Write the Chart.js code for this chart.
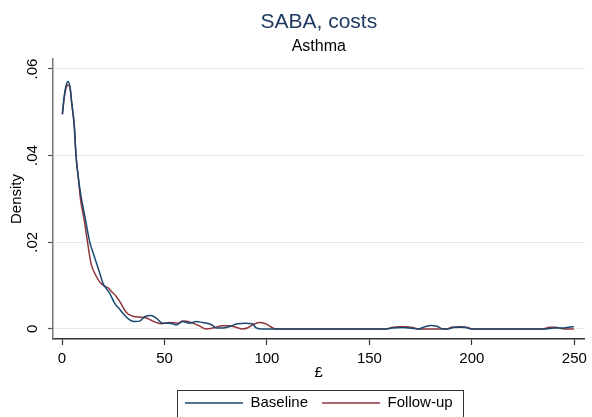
<!DOCTYPE html>
<html>
<head>
<meta charset="utf-8">
<title>SABA, costs</title>
<script src="https://cdn.jsdelivr.net/npm/chart.js@4"></script>
<style>
  html, body { margin: 0; padding: 0; background: #fff; }
  #wrap { width: 592px; height: 417px; }
</style>
</head>
<body>
<div id="wrap"><canvas id="c" width="592" height="417"></canvas></div>
<script>
const xTicks = [0, 50, 100, 150, 200, 250];
const yTicks = [0, 0.02, 0.04, 0.06];

// kernel density, baseline year
const baselineX = [0.2, 1, 2, 3, 4, 4.7, 6, 6.8, 7.9, 9.2, 11.2, 13.6, 15.2, 18.4, 20, 21.5, 23.3, 25.7, 28.2, 30.5,
  33, 35.5, 37.9, 40.3, 43.5, 46, 49.2, 52, 54, 55.7, 58.9, 62.1, 65.4, 68.5, 71.8, 73.5, 75.1, 78.3, 81.6, 85.6,
  89.7, 92.9, 94.5, 97, 100, 120, 140, 158, 161, 166, 172, 174, 177, 180, 183, 186, 188, 191, 194, 197,
  200, 220, 236, 240, 243, 245, 247.4, 249.8];
const baselineY = [0.0495, 0.0535, 0.0562, 0.0571, 0.0555, 0.0525, 0.0468, 0.0402, 0.0352, 0.0308, 0.0259, 0.0199, 0.0175, 0.0129, 0.0105, 0.0094, 0.0082, 0.0059, 0.0045, 0.0032,
  0.0021, 0.0017, 0.0018, 0.0028, 0.0031, 0.0025, 0.0013, 0.0013, 0.0012, 0.0009, 0.0017, 0.0013, 0.0017, 0.0015, 0.0012, 0.0008, 0.0002, 0.0002, 0.0005, 0.0012,
  0.0013, 0.0012, 0.0003, 0, 0, 0, 0, 0, 0.0002, 0.0003, 0.0001, 0, 0.0005, 0.0008, 0.0006, 0, 0, 0.0003, 0.0004, 0.0003,
  0, 0, 0, 0.0002, 0.0002, 0.0002, 0.0004, 0.0005];

// kernel density, follow-up year
const followX = [0.15, 1, 2, 3.1, 4, 4.7, 6, 6.8, 7.9, 9, 10.8, 12.5, 14.1, 16.8, 18.8, 20.9, 22.5, 23.8, 26.5, 28.2,
  31.4, 34.6, 38.7, 41.1, 44.3, 48.4, 52.4, 56.5, 58.9, 63, 67, 70.2, 72.5, 75.1, 78.3, 81.6, 84.8, 88, 90.4, 92.9,
  96.1, 99.4, 101.8, 104.2, 130, 158, 161, 164, 168, 172, 174, 188, 190, 194, 198, 200, 235, 238, 241, 243.5,
  245, 249.8];
const followY = [0.0496, 0.053, 0.0556, 0.0563, 0.0553, 0.0521, 0.0467, 0.0402, 0.0351, 0.03, 0.0252, 0.0199, 0.0152, 0.0121, 0.0106, 0.0098, 0.0095, 0.0088, 0.0075, 0.0063,
  0.0038, 0.0029, 0.0027, 0.0025, 0.0018, 0.0012, 0.0015, 0.0013, 0.0018, 0.0015, 0.0007, 0, 0.0001, 0.0004, 0.0007, 0.0007, 0.0004, 0, 0.0002, 0.0009,
  0.0015, 0.0012, 0.0005, 0, 0, 0, 0.0003, 0.0005, 0.0005, 0.0002, 0, 0, 0.0004, 0.0005, 0.0003, 0, 0, 0.0004, 0.0004, 0.0001,
  0, 0];

const toPoints = (xs, ys) => xs.map((x, i) => ({ x: x, y: ys[i] }));

Chart.defaults.font.family = "'Liberation Sans', Arial, sans-serif";
Chart.defaults.font.size = 15;
Chart.defaults.color = '#000';

// frame round the legend, Stata style
const legendFrame = {
    id: 'legendFrame',
    afterDraw: (chart) => {
        const boxes = chart.legend.legendHitBoxes;
        if (!boxes || !boxes.length) return;
        const first = boxes[0];
        const last = boxes[boxes.length - 1];
        const ctx = chart.ctx;
        const left = first.left - 8;
        const right = last.left + last.width + 10;
        const top = first.top - 6;
        ctx.save();
        ctx.strokeStyle = '#333';
        ctx.lineWidth = 1;
        ctx.strokeRect(Math.round(left) + 0.5, Math.round(top) + 0.5, Math.round(right - left), chart.height - top + 5);
        ctx.restore();
    }
};

const line = (label, color, xs, ys) => ({
    label: label,
    data: toPoints(xs, ys),
    showLine: true,
    borderColor: color,
    backgroundColor: color,
    borderWidth: 1.5,
    pointRadius: 0,
    fill: false,
    cubicInterpolationMode: 'monotone'
});

new Chart(document.getElementById('c').getContext('2d'), {
    type: 'scatter',
    data: {
        datasets: [
            line('Baseline', '#1a476f', baselineX, baselineY),
            line('Follow-up', '#90353b', followX, followY)
        ]
    },
    options: {
        responsive: false,
        animation: false,
        layout: { padding: { left: 0, right: 5, top: 0, bottom: -3.5 } },
        plugins: {
            title: {
                display: true,
                fullSize: false,
                text: 'SABA, costs',
                color: '#1f3a60',
                font: { size: 21, weight: 'normal' },
                padding: { top: 9.2, bottom: 0 }
            },
            subtitle: {
                display: true,
                fullSize: false,
                text: 'Asthma',
                color: '#000',
                font: { size: 16 },
                padding: { top: 2.7, bottom: 2.7 }
            },
            legend: {
                position: 'bottom',
                fullSize: false,
                labels: {
                    usePointStyle: true,
                    pointStyle: 'line',
                    pointStyleWidth: 58,
                    padding: 14,
                    color: '#000',
                    font: { size: 15 }
                }
            },
            tooltip: { enabled: false }
        },
        scales: {
            x: {
                type: 'linear',
                min: -4.4,
                max: 255,
                afterBuildTicks: s => { s.ticks = xTicks.map(v => ({ value: v })); },
                afterFit: s => { s.height = 42.5; },
                ticks: { padding: 5, maxRotation: 0, autoSkip: false, color: '#000' },
                grid: { drawOnChartArea: false, drawTicks: true, tickLength: 6, tickColor: '#333', tickWidth: 1.2 },
                border: { color: '#333', width: 1.5 },
                title: { display: true, text: '£', color: '#000', font: { size: 15 }, padding: { top: 0, bottom: 0 } }
            },
            y: {
                type: 'linear',
                min: -0.00233,
                max: 0.0623,
                afterBuildTicks: s => { s.ticks = yTicks.map(v => ({ value: v })); },
                afterFit: s => { s.width = 53; },
                ticks: {
                    padding: 5,
                    minRotation: 90,
                    maxRotation: 90,
                    crossAlign: 'center',
                    color: '#000',
                    callback: v => v === 0 ? '0' : String(v).replace(/^0/, '')
                },
                grid: { color: '#e4ebee', lineWidth: 1, drawTicks: true, tickLength: 5, tickColor: '#555', tickWidth: 1.2 },
                border: { color: '#777', width: 1.5 },
                title: { display: true, text: 'Density', color: '#000', font: { size: 15 }, padding: { top: 8, bottom: 0 } }
            }
        }
    },
    plugins: [legendFrame]
});
</script>
</body>
</html>
